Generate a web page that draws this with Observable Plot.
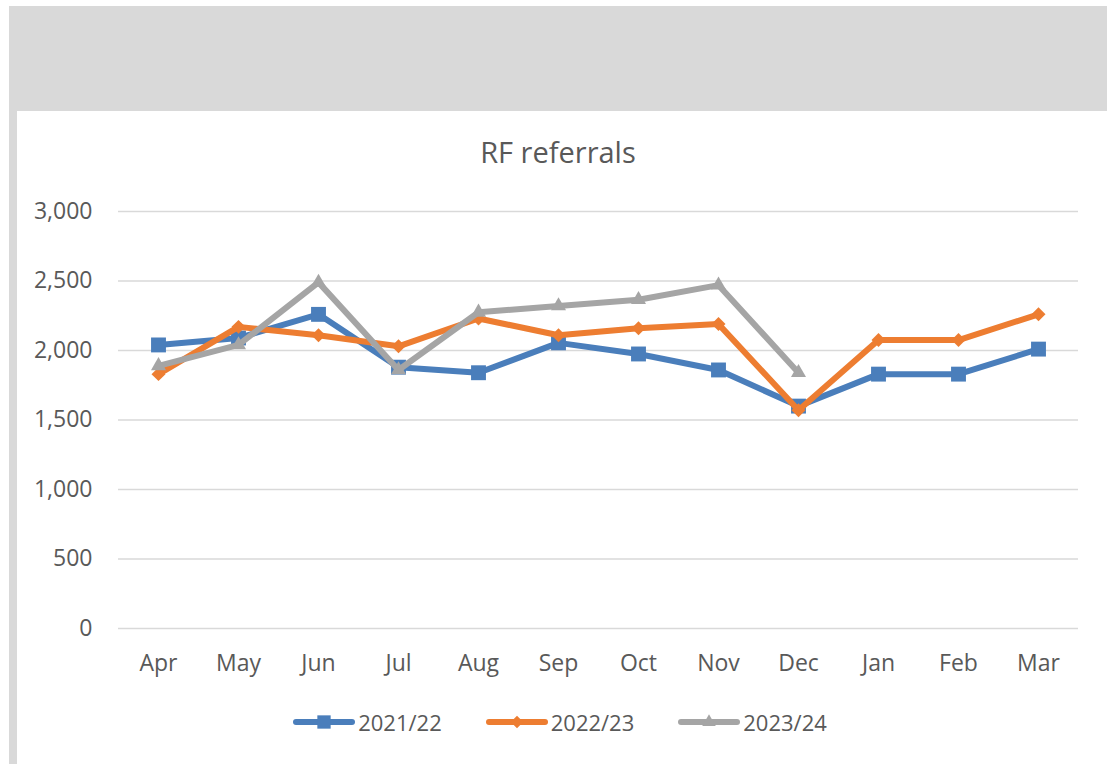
<!DOCTYPE html>
<html>
<head>
<meta charset="utf-8">
<script src="https://cdn.jsdelivr.net/npm/d3@7"></script>
<script src="https://cdn.jsdelivr.net/npm/@observablehq/plot@0.6"></script>
<style>
  html, body { margin: 0; padding: 0; background: #ffffff; }
  body { width: 1107px; height: 764px; position: relative; overflow: hidden; font-family: "Open Sans", sans-serif; color: #595959; }
  #band { position: absolute; left: 9px; top: 6px; width: 1098px; height: 105px; background: #d9d9d9; }
  #strip { position: absolute; left: 9px; top: 6px; width: 8px; height: 758px; background: #d9d9d9; }
  #title { position: absolute; left: 0; top: 137px; width: 1116px; text-align: center; font-size: 29px; line-height: 1; color: #595959; }
  #chart { position: absolute; left: 0; top: 190px; }
  #legend { position: absolute; left: 0; top: 706px; width: 1120px; height: 32px; display: flex; justify-content: center; align-items: center; font-size: 22px; color: #595959; }
  .item { display: flex; align-items: center; margin: 0 22px; }
  .item svg { display: block; margin-right: 3px; }
</style>
</head>
<body>
<div id="band"></div>
<div id="strip"></div>
<div id="title">RF referrals</div>
<div id="chart"></div>
<div id="legend"></div>
<script>
const months = ["Apr","May","Jun","Jul","Aug","Sep","Oct","Nov","Dec","Jan","Feb","Mar"];
const seriesNames = ["2021/22","2022/23","2023/24"];
const v2021 = [2040,2090,2260,1880,1840,2055,1975,1860,1600,1830,1830,2010];
const v2022 = [1830,2170,2110,2030,2230,2110,2160,2190,1570,2075,2075,2260];
const v2023 = [1890,2040,2490,1860,2275,2320,2365,2470,1840];
const yTicks = [0,500,1000,1500,2000,2500,3000];

const seriesValues = [v2021, v2022, v2023];
const colors = ["#4a7ebb","#ed7d31","#a5a5a5"];
const symbols = ["square","diamond2","triangle"];
const radii = [8.4, 6.3, 5.6];

const rows = [];
seriesNames.forEach((s, i) => seriesValues[i].forEach((v, j) => rows.push({month: months[j], series: s, value: v})));

const marks = [
  Plot.gridY(yTicks, {stroke: "#d9d9d9", strokeWidth: 1.5, strokeOpacity: 1}),
  Plot.axisY(yTicks, {tickSize: 0, tickPadding: 26, tickFormat: d3.format(","), label: null}),
  Plot.axisX({tickSize: 0, tickPadding: 26, label: null})
];
seriesNames.forEach((s, i) => {
  const sub = rows.filter(d => d.series === s);
  marks.push(Plot.line(sub, {x: "month", y: "value", stroke: colors[i], strokeWidth: 6}));
  marks.push(Plot.dot(sub, {x: "month", y: "value", symbol: symbols[i], r: radii[i], fill: colors[i], stroke: "none"}));
});

const chart = Plot.plot({
  width: 1107,
  height: 500,
  marginTop: 21,
  marginBottom: 62,
  marginLeft: 118,
  marginRight: 29,
  x: {type: "point", domain: months, padding: 0.5},
  y: {domain: [0, 3000]},
  style: {background: "transparent", fontFamily: "'Open Sans', sans-serif", fontSize: "23px", color: "#595959", overflow: "visible"},
  marks
});
document.getElementById("chart").appendChild(chart);

// legend
const legend = d3.select("#legend");
seriesNames.forEach((s, i) => {
  const item = legend.append("div").attr("class", "item");
  const svg = item.append("svg").attr("width", 62).attr("height", 20);
  svg.append("line").attr("x1", 3).attr("x2", 59).attr("y1", 10).attr("y2", 10)
    .attr("stroke", colors[i]).attr("stroke-width", 6).attr("stroke-linecap", "round");
  const symMap = {square: d3.symbolSquare, diamond2: d3.symbolDiamond2, triangle: d3.symbolTriangle};
  svg.append("path").attr("transform", "translate(31,10)")
    .attr("d", d3.symbol(symMap[symbols[i]], Math.PI * radii[i] * radii[i] * 0.8)())
    .attr("fill", colors[i]);
  item.append("span").text(s);
});
</script>
</body>
</html>
